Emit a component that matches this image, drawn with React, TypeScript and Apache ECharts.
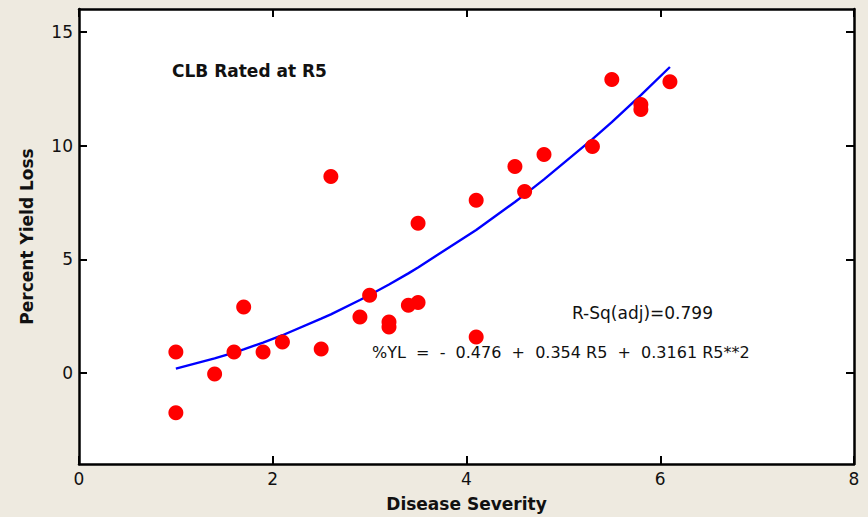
import React, { useEffect, useRef } from "react";
import * as echarts from "echarts";

const severity = [1.0, 1.0, 1.4, 1.6, 1.7, 1.9, 2.1, 2.5, 2.6, 2.9, 3.0, 3.2, 3.2, 3.4, 3.5, 3.5, 4.1, 4.1, 4.5, 4.6, 4.8, 5.3, 5.5, 5.8, 5.8, 6.1];
const yieldLoss = [0.92, -1.75, -0.04, 0.92, 2.9, 0.92, 1.36, 1.05, 8.64, 2.46, 3.42, 2.24, 2.02, 2.98, 3.1, 6.58, 1.58, 7.59, 9.08, 7.98, 9.6, 9.96, 12.9, 11.8, 11.58, 12.8];

const fitX = [1.0, 1.4, 1.6, 1.7, 1.9, 2.1, 2.5, 2.6, 2.9, 3.0, 3.2, 3.4, 3.5, 4.1, 4.5, 4.6, 4.8, 5.3, 5.5, 5.8, 6.1];
const fitY = [0.19, 0.64, 0.9, 1.04, 1.34, 1.66, 2.39, 2.58, 3.21, 3.43, 3.89, 4.38, 4.64, 6.29, 7.52, 7.84, 8.51, 10.28, 11.03, 12.21, 13.45];

const yTicks = [0, 5, 10, 15];

const titleText = "CLB Rated at R5";
const rsqText = "R-Sq(adj)=0.799";
const eqText = "%YL  =  -  0.476  +  0.354 R5  +  0.3161 R5**2";

const FONT = "DejaVu Sans";

export default function App() {
  const ref = useRef<HTMLDivElement>(null);
  useEffect(() => {
    if (!ref.current) return;
    const chart = echarts.init(ref.current, null, { renderer: "svg" });
    const axisLine = { show: true, onZero: false, lineStyle: { color: "#000", width: 2.5 } };
    const tick = { show: true, inside: true, length: 8, lineStyle: { color: "#000", width: 2 } };
    chart.setOption({
      animation: false,
      backgroundColor: "#EEEAE0",
      grid: { left: 79, right: 14, top: 9, bottom: 52, show: true, backgroundColor: "#fff", borderWidth: 0 },
      xAxis: [
        {
          type: "value", min: 0, max: 8, interval: 2, position: "bottom",
          axisLine, axisTick: tick, splitLine: { show: false },
          axisLabel: { fontFamily: FONT, fontSize: 17, color: "#111", margin: 6 },
          name: "Disease Severity", nameLocation: "middle", nameGap: 31,
          nameTextStyle: { fontFamily: FONT, fontSize: 17, fontWeight: "bold", color: "#111" },
        },
        {
          type: "value", min: 0, max: 8, interval: 2, position: "top",
          axisLine, axisTick: tick, splitLine: { show: false }, axisLabel: { show: false },
        },
      ],
      yAxis: [
        {
          type: "value", min: -4, max: 16, position: "left",
          axisLine,
          axisTick: { ...tick, customValues: yTicks },
          splitLine: { show: false },
          axisLabel: { customValues: yTicks, fontFamily: FONT, fontSize: 17, color: "#111", margin: 6 },
          name: "Percent Yield Loss", nameLocation: "middle", nameGap: 44,
          nameTextStyle: { fontFamily: FONT, fontSize: 17, fontWeight: "bold", color: "#111" },
        },
        {
          type: "value", min: -4, max: 16, position: "right",
          axisLine,
          axisTick: { ...tick, customValues: yTicks },
          splitLine: { show: false },
          axisLabel: { show: false },
        },
      ],
      series: [
        {
          type: "line",
          data: fitX.map((x, i) => [x, fitY[i]]),
          showSymbol: false,
          symbol: "none",
          lineStyle: { color: "#0000FF", width: 2.4 },
          z: 2,
        },
        {
          type: "scatter",
          data: severity.map((x, i) => [x, yieldLoss[i]]),
          symbol: "circle",
          symbolSize: 15,
          itemStyle: { color: "#FF0000", opacity: 1 },
          z: 3,
        },
      ],
      graphic: [
        {
          type: "text", left: 172, top: 62,
          style: { text: titleText, fontFamily: FONT, fontSize: 17, fontWeight: "bold", fill: "#111" },
        },
        {
          type: "text", left: 572, top: 304,
          style: { text: rsqText, fontFamily: FONT, fontSize: 17, fill: "#111" },
        },
        {
          type: "text", left: 372, top: 344,
          style: { text: eqText, fontFamily: FONT, fontSize: 16, fill: "#111" },
        },
      ],
    });
    return () => chart.dispose();
  }, []);
  return <div ref={ref} style={{ width: 868, height: 517, position: "fixed", left: 0, top: 0 }} />;
}
